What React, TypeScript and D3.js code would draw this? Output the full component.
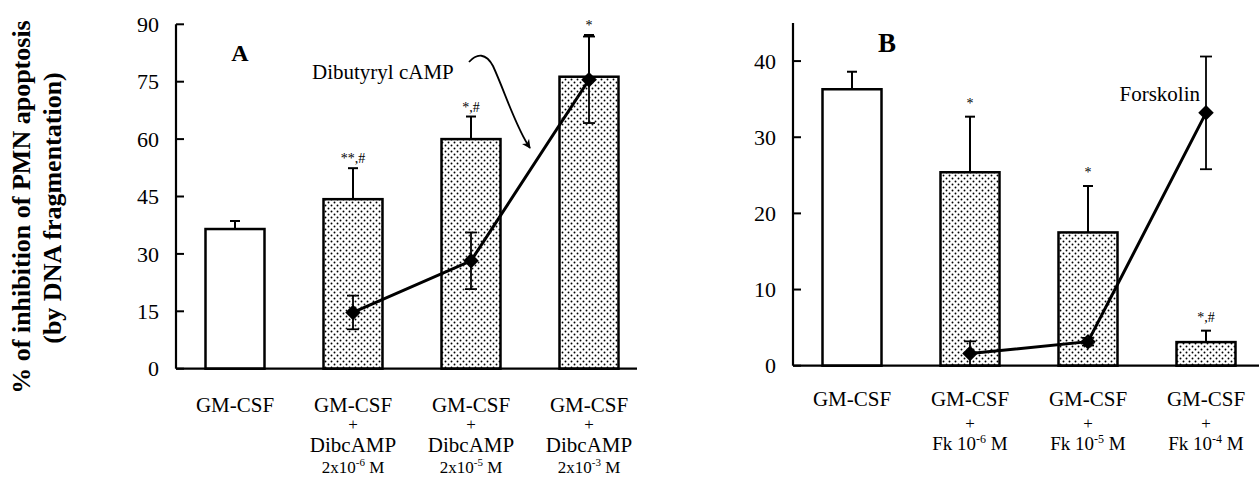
import React from 'react';
import * as d3 from 'd3';

const W = 1259;
const H = 477;
const FONT = '"Liberation Serif", "Times New Roman", serif';

// panel A: GM-CSF + dibutyryl cAMP
const catsA = ['c1', 'c2', 'c3', 'c4'];
const barsA = [36.5, 44.3, 60.0, 76.3];
const barsAErr = [2.1, 8.1, 5.9, 10.9];
const starsA = ['', '**,#', '*,#', '*'];
const lineA = [null, 14.7, 28.2, 75.5];
const lineAErr = [0, 4.4, 7.4, 11.3];
const ticksA = [0, 15, 30, 45, 60, 75, 90];
const doseA = ['-6', '-5', '-3'];

// panel B: GM-CSF + forskolin
const catsB = ['c1', 'c2', 'c3', 'c4'];
const barsB = [36.3, 25.4, 17.5, 3.1];
const barsBErr = [2.3, 7.3, 6.1, 1.5];
const starsB = ['', '*', '*', '*,#'];
const lineB = [null, 1.6, 3.15, 33.2];
const lineBErr = [0, 1.6, 0.5, 7.4];
const ticksB = [0, 10, 20, 30, 40];
const doseB = ['-6', '-5', '-4'];

const diamond = d3.symbol(d3.symbolSquare, 120)();

type PanelProps = {
  x0: number;
  xEnd: number;
  yTop: number;
  yBottom: number;
  yMax: number;
  cats: string[];
  bars: number[];
  barsErr: number[];
  stars: string[];
  starGap: number;
  line: (number | null)[];
  lineErr: number[];
  ticks: number[];
};

function Panel(p: PanelProps) {
  const x = d3.scaleBand().domain(p.cats).range([p.x0, p.x0 + 472]).paddingInner(0.5).paddingOuter(0.25);
  const y = d3.scaleLinear().domain([0, p.yMax]).range([p.yBottom, p.yTop]);
  const bw = x.bandwidth();
  const cx = (i: number) => (x(p.cats[i]) as number) + bw / 2;
  const pts = p.line
    .map((v, i) => ({ v, i }))
    .filter((d) => d.v !== null) as { v: number; i: number }[];
  const path = d3.line<{ v: number; i: number }>().x((d) => cx(d.i)).y((d) => y(d.v))(pts);

  return (
    <g>
      {p.bars.map((v, i) => (
        <g key={i}>
          <line x1={cx(i)} x2={cx(i)} y1={y(v)} y2={y(v + p.barsErr[i])} stroke="#000" strokeWidth={2} />
          <line x1={cx(i) - 5} x2={cx(i) + 5} y1={y(v + p.barsErr[i])} y2={y(v + p.barsErr[i])} stroke="#000" strokeWidth={2} />
          <rect
            x={x(p.cats[i])}
            y={y(v)}
            width={bw}
            height={y(0) - y(v)}
            fill={i === 0 ? '#fff' : 'url(#dots)'}
            stroke="#000"
            strokeWidth={2.5}
          />
          {p.stars[i] && (
            <text x={cx(i)} y={y(v + p.barsErr[i]) - p.starGap} textAnchor="middle" fontSize={14} fontFamily={FONT}>
              {p.stars[i]}
            </text>
          )}
        </g>
      ))}
      <path d={path || ''} fill="none" stroke="#000" strokeWidth={3} />
      {pts.map((d) => (
        <g key={d.i}>
          <line x1={cx(d.i)} x2={cx(d.i)} y1={y(d.v - p.lineErr[d.i])} y2={y(d.v + p.lineErr[d.i])} stroke="#000" strokeWidth={1.8} />
          <line x1={cx(d.i) - 6} x2={cx(d.i) + 6} y1={y(d.v + p.lineErr[d.i])} y2={y(d.v + p.lineErr[d.i])} stroke="#000" strokeWidth={1.8} />
          <line x1={cx(d.i) - 6} x2={cx(d.i) + 6} y1={y(d.v - p.lineErr[d.i])} y2={y(d.v - p.lineErr[d.i])} stroke="#000" strokeWidth={1.8} />
          <path d={diamond || ''} transform={`translate(${cx(d.i)},${y(d.v)}) rotate(45)`} fill="#000" />
        </g>
      ))}
      {/* axes */}
      <line x1={p.x0} x2={p.x0} y1={p.yTop} y2={y(0)} stroke="#000" strokeWidth={2.2} />
      <line x1={p.x0} x2={p.xEnd} y1={y(0)} y2={y(0)} stroke="#000" strokeWidth={2.2} />
      {p.ticks.map((t) => (
        <g key={t}>
          <line x1={p.x0} x2={p.x0 + 8} y1={y(t)} y2={y(t)} stroke="#000" strokeWidth={2} />
          <text x={p.x0 - 17} y={y(t)} dy="0.35em" textAnchor="end" fontSize={22} fontFamily={FONT}>
            {t}
          </text>
        </g>
      ))}
    </g>
  );
}

export default function App() {
  const bandA = d3.scaleBand().domain(catsA).range([176, 648]).paddingInner(0.5).paddingOuter(0.25);
  const bandB = d3.scaleBand().domain(catsB).range([793, 1265]).paddingInner(0.5).paddingOuter(0.25);
  const midA = (i: number) => (bandA(catsA[i]) as number) + bandA.bandwidth() / 2;
  const midB = (i: number) => (bandB(catsB[i]) as number) + bandB.bandwidth() / 2;

  return (
    <svg
      width={W}
      height={H}
      style={{ position: 'fixed', left: 0, top: 0, background: '#fff' }}
      fontFamily={FONT}
    >
      <defs>
        <pattern id="dots" width={6} height={6} patternUnits="userSpaceOnUse">
          <rect width={6} height={6} fill="#fff" />
          <circle cx={1.5} cy={1.5} r={0.95} fill="#000" />
          <circle cx={4.5} cy={4.5} r={0.95} fill="#000" />
        </pattern>
        <marker id="arrow" viewBox="0 0 10 10" refX={9} refY={5} markerWidth={9} markerHeight={9} orient="auto" markerUnits="userSpaceOnUse">
          <path d="M0,0 L10,5 L0,10 L3,5 Z" fill="#000" />
        </marker>
      </defs>
      <rect width={W} height={H} fill="#fff" />

      {/* y axis title */}
      <text transform="translate(30,207) rotate(-90)" textAnchor="middle" fontSize={26} fontWeight="bold">
        % of inhibition of PMN apoptosis
      </text>
      <text transform="translate(61,208) rotate(-90)" textAnchor="middle" fontSize={26} fontWeight="bold">
        (by DNA fragmentation)
      </text>

      <Panel
        x0={176}
        xEnd={637}
        yTop={24.3}
        yBottom={368.7}
        yMax={90}
        cats={catsA}
        bars={barsA}
        barsErr={barsAErr}
        stars={starsA}
        starGap={5}
        line={lineA}
        lineErr={lineAErr}
        ticks={ticksA}
      />
      <Panel
        x0={793}
        xEnd={1259}
        yTop={23}
        yBottom={365.7}
        yMax={45}
        cats={catsB}
        bars={barsB}
        barsErr={barsBErr}
        stars={starsB}
        starGap={9}
        line={lineB}
        lineErr={lineBErr}
        ticks={ticksB}
      />

      <text x={240} y={61} textAnchor="middle" fontSize={24} fontWeight="bold">A</text>
      <text x={887} y={52} textAnchor="middle" fontSize={27} fontWeight="bold">B</text>

      <text x={312} y={79} fontSize={21}>Dibutyryl cAMP</text>
      <path
        d="M469,62 C477,53 486,53 493,66 C505,92 516,128 530,148"
        fill="none"
        stroke="#000"
        strokeWidth={1.8}
        markerEnd="url(#arrow)"
      />
      <text x={1200} y={101} textAnchor="end" fontSize={21}>Forskolin</text>

      {/* category labels A */}
      {catsA.map((c, i) => (
        <g key={c} textAnchor="middle">
          <text x={midA(i)} y={412} fontSize={21}>GM-CSF</text>
          {i > 0 && (
            <>
              <text x={midA(i)} y={430} fontSize={17}>+</text>
              <text x={midA(i)} y={452} fontSize={21}>DibcAMP</text>
              <text x={midA(i)} y={473} fontSize={17}>
                2x10<tspan fontSize={11} dy={-7}>{doseA[i - 1]}</tspan>
                <tspan dy={7}> M</tspan>
              </text>
            </>
          )}
        </g>
      ))}

      {/* category labels B */}
      {catsB.map((c, i) => (
        <g key={c} textAnchor="middle">
          <text x={midB(i)} y={406} fontSize={21}>GM-CSF</text>
          {i > 0 && (
            <>
              <text x={midB(i)} y={429} fontSize={17}>+</text>
              <text x={midB(i)} y={450} fontSize={19}>
                Fk 10<tspan fontSize={12} dy={-7}>{doseB[i - 1]}</tspan>
                <tspan dy={7}> M</tspan>
              </text>
            </>
          )}
        </g>
      ))}
    </svg>
  );
}
